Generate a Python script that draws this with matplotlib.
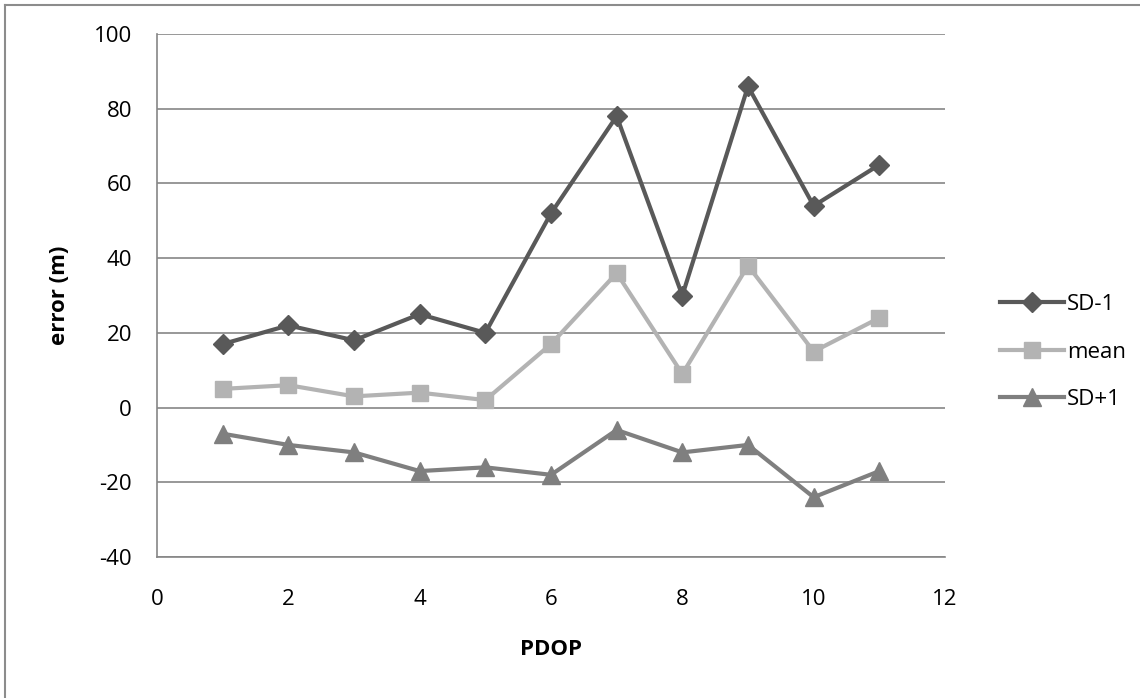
import matplotlib.pyplot as plt
from matplotlib.lines import Line2D

pdop = [1, 2, 3, 4, 5, 6, 7, 8, 9, 10, 11]
sd_minus = [17, 22, 18, 25, 20, 52, 78, 30, 86, 54, 65]
mean = [5, 6, 3, 4, 2, 17, 36, 9, 38, 15, 24]
sd_plus = [-7, -10, -12, -17, -16, -18, -6, -12, -10, -24, -17]

plt.rcParams['font.family'] = ['Open Sans', 'DejaVu Sans']
plt.rcParams['axes.unicode_minus'] = False

fig = plt.figure(figsize=(11.4, 6.98), dpi=100)
ax = fig.add_axes([157 / 1140, 1 - 557 / 698, (945 - 157) / 1140, (557 - 34) / 698])

grid_c = '#868686'
ax.plot(pdop, sd_minus, color='#595959', lw=3, marker='D', ms=10, label='SD-1', zorder=3)
ax.plot(pdop, mean, color='#b3b3b3', lw=3, marker='s', ms=12, label='mean', zorder=3)
ax.plot(pdop, sd_plus, color='#7f7f7f', lw=3, marker='^', ms=12.5, label='SD+1', zorder=3)

ax.set_xlim(0, 12)
ax.set_ylim(-40, 100)
ax.set_xticks(range(0, 13, 2))
ax.set_yticks(range(-40, 101, 20))
ax.yaxis.grid(True, color=grid_c, lw=1.2)
ax.set_axisbelow(True)
for s in ['top', 'right']:
    ax.spines[s].set_visible(False)
for s in ['left', 'bottom']:
    ax.spines[s].set_color(grid_c)
    ax.spines[s].set_linewidth(1.2)
ax.tick_params(length=0, labelsize=16)
ax.tick_params(axis='x', pad=23)
ax.tick_params(axis='y', pad=18)

ax.set_xlabel('PDOP', fontsize=16, fontweight='bold', va='top')
ax.xaxis.set_label_coords(0.5, -0.157)
ax.set_ylabel('error (m)', fontsize=16, fontweight='bold')
ax.yaxis.set_label_coords(-0.110, 0.5)

ax.legend(loc='center left', bbox_to_anchor=(1000 / 1140, 1 - 352 / 698), bbox_transform=fig.transFigure,
          frameon=False, fontsize=16, handlelength=2.9, handletextpad=0.1, labelspacing=1.2,
          borderaxespad=0, borderpad=0)

# outer chart border (top and left visible)
fig.add_artist(Line2D([0.004, 1.0], [0.993, 0.993], color='#8c8c8c', lw=1.5, transform=fig.transFigure))
fig.add_artist(Line2D([0.0045, 0.0045], [0.0, 0.993], color='#8c8c8c', lw=1.5, transform=fig.transFigure))

fig.savefig('out.png', dpi=100)
